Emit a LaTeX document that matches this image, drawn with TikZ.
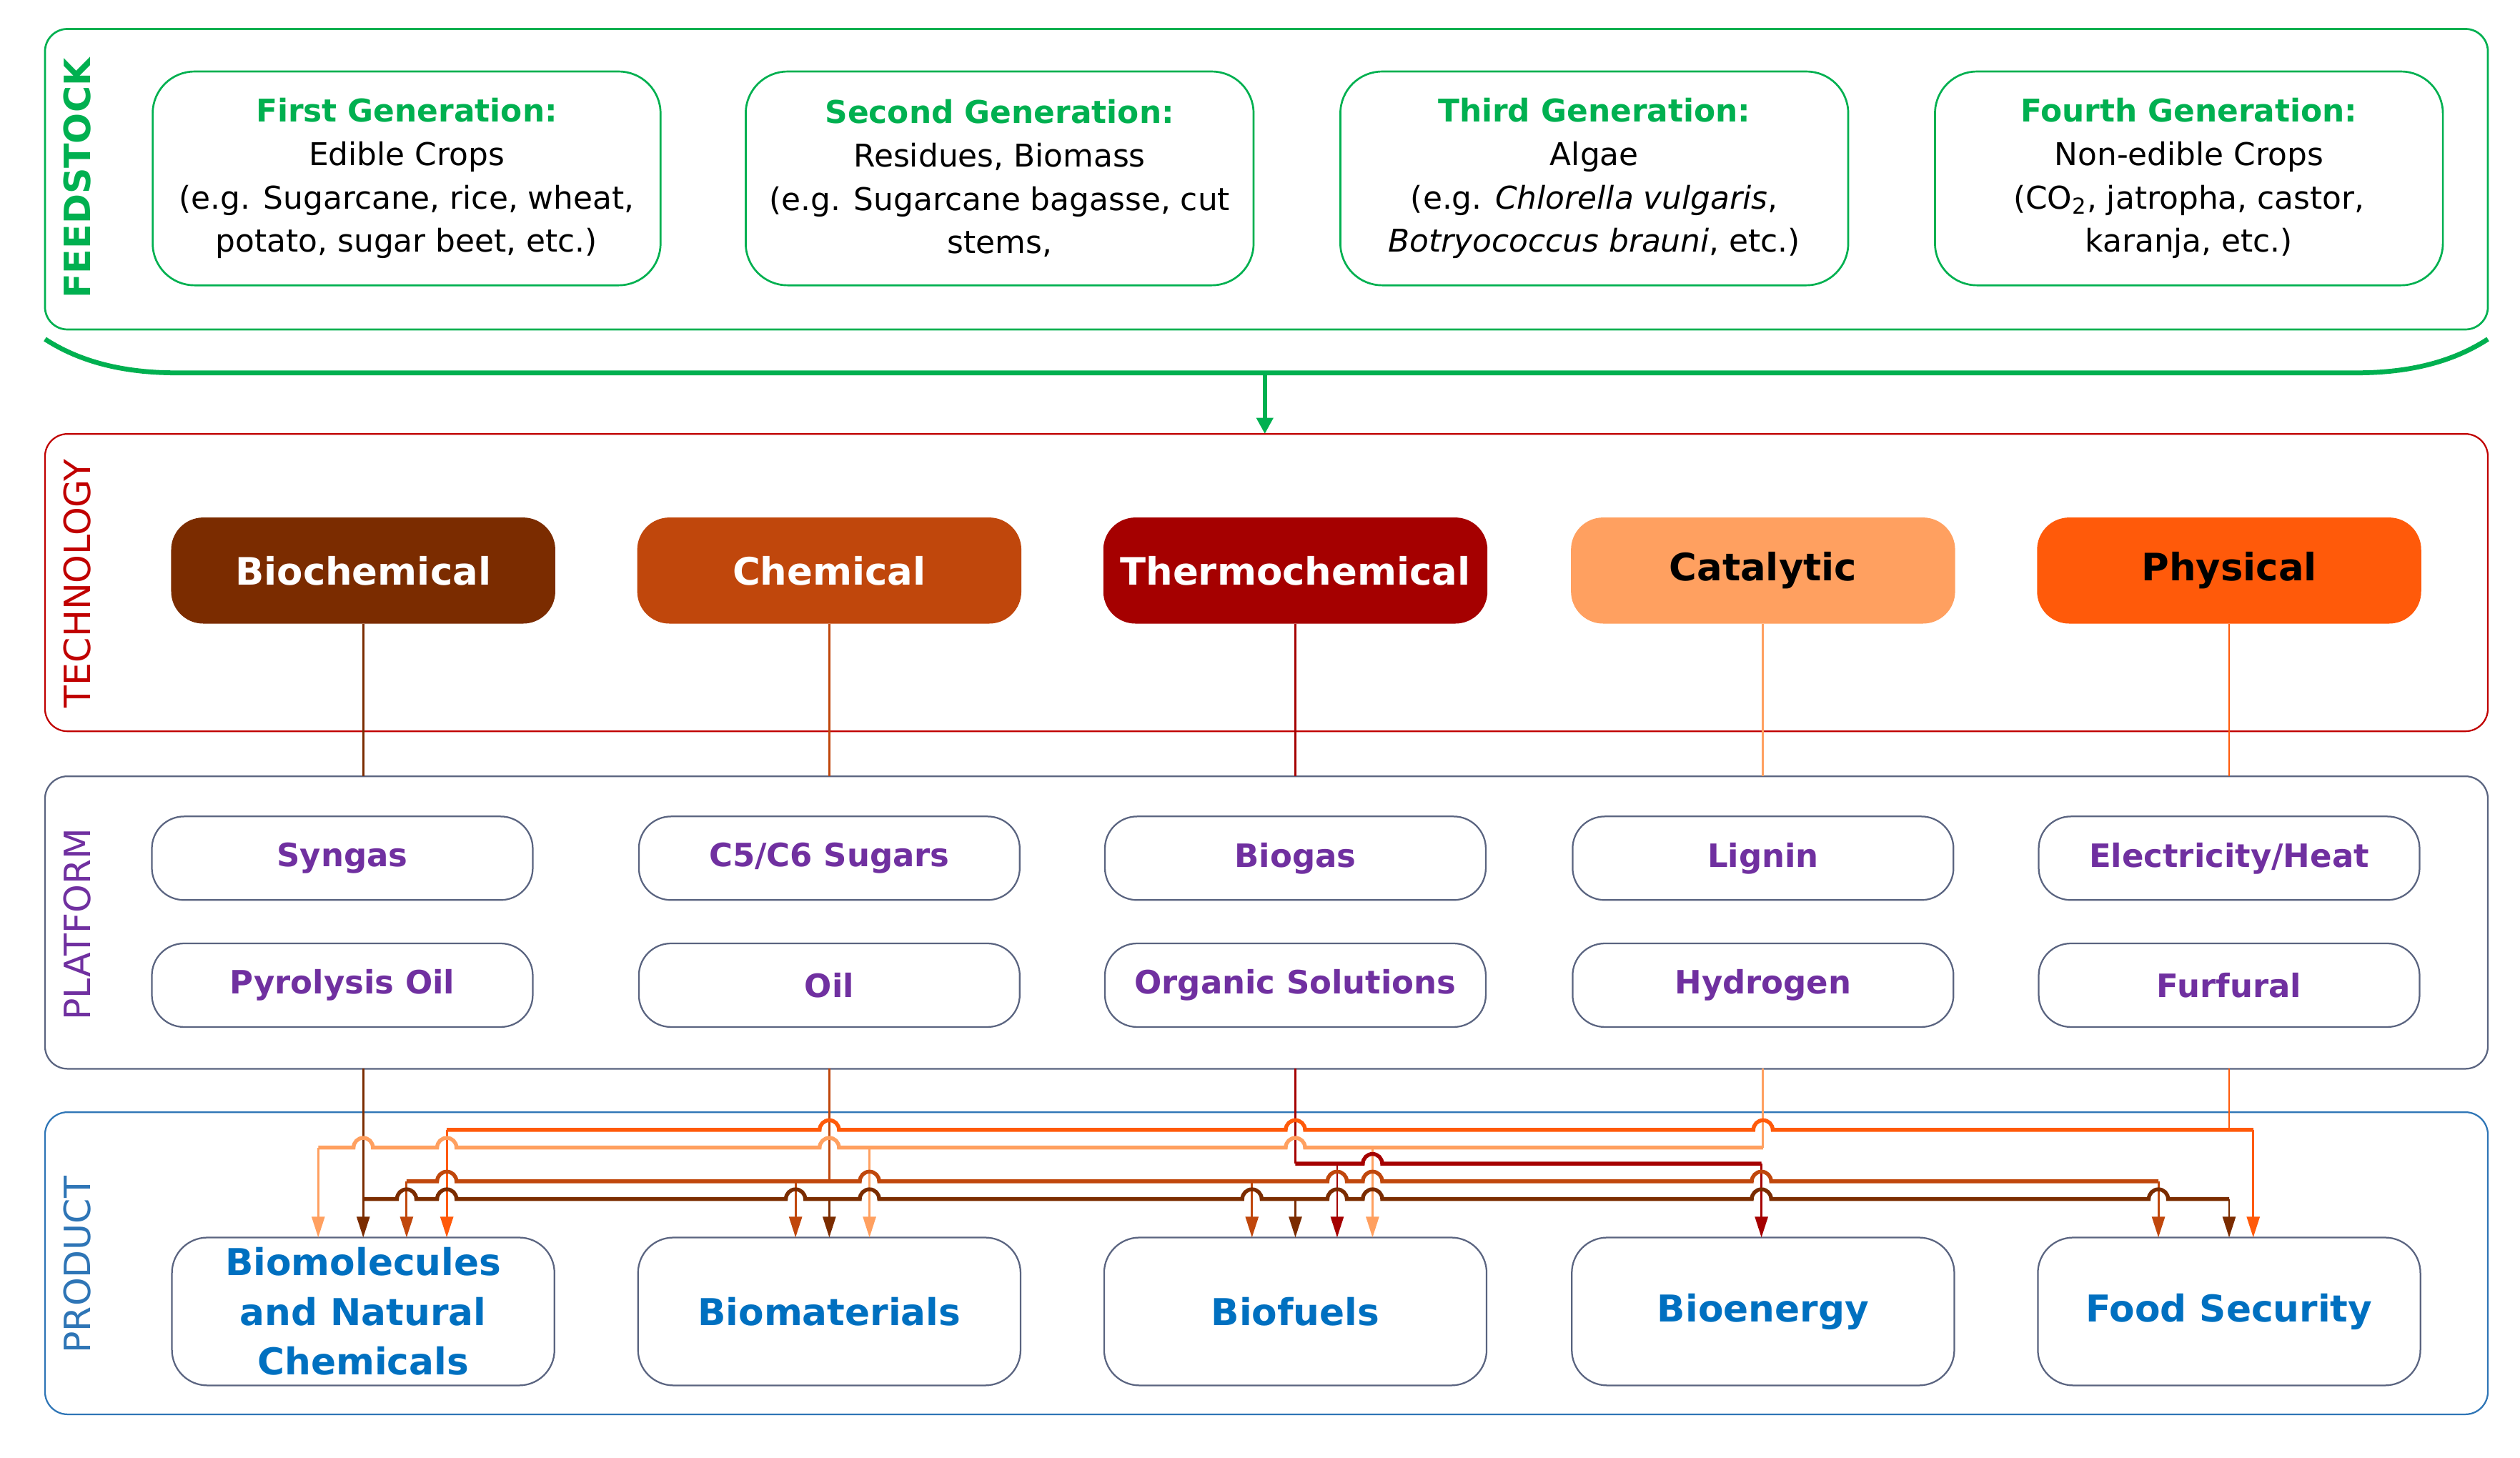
\documentclass[tikz,border=0pt]{standalone}
\usepackage{fontspec}
\setmainfont{DejaVu Sans}
\usetikzlibrary{arrows.meta}
\definecolor{fgreen}{HTML}{00B050}
\definecolor{tred}{HTML}{C00000}
\definecolor{pgray}{HTML}{5A6480}
\definecolor{ppur}{HTML}{7030A0}
\definecolor{pblue}{HTML}{2E75B6}
\definecolor{ptext}{HTML}{0070C0}
\definecolor{cbio}{HTML}{7B2C00}
\definecolor{cchem}{HTML}{C0470C}
\definecolor{cthermo}{HTML}{A50000}
\definecolor{ccat}{HTML}{FFA060}
\definecolor{cphys}{HTML}{FF5A0A}
\begin{document}
\begin{tikzpicture}[x=1pt,y=-1pt,
  panel/.style={draw,rounded corners=14pt,line width=1.2pt},
  side/.style={rotate=90,font=\fontsize{22.5}{22.5}\selectfont},
  feed/.style={draw=fgreen,line width=1.2pt,rounded corners=26pt,minimum width=316pt,minimum height=133pt,align=center,font=\fontsize{19.5}{27}\selectfont},
  tech/.style={rounded corners=20pt,minimum width=239pt,minimum height=66pt,font=\bfseries\fontsize{23.5}{23.5}\selectfont},
  plat/.style={draw=pgray,line width=1pt,rounded corners=20pt,minimum width=237pt,minimum height=52pt,text=ppur,font=\bfseries\fontsize{20}{20}\selectfont},
  prod/.style={draw=pgray,line width=1pt,rounded corners=22pt,minimum width=238pt,minimum height=92pt,text=ptext,align=center,font=\bfseries\fontsize{23}{31}\selectfont},
  vl/.style={line width=1.3pt},
  hl/.style={line width=2.4pt},
  arr/.style={line width=1.3pt,-{Triangle[width=8pt,length=13pt]}}]
\useasboundingbox (0,0) rectangle (1568,907);
% panels
\draw[panel,draw=fgreen] (28,18) rectangle (1548,205);
\draw[fgreen,line width=3pt] (28,211) .. controls (45,222) and (70,232) .. (110,232) -- (1466,232) .. controls (1506,232) and (1531,222) .. (1548,211);
\coordinate (fb) at (787,232);
\coordinate (tt) at (787,270);
\draw[fgreen,line width=2.5pt,-{Triangle[width=10pt,length=10pt]}] (fb) -- (tt);
\draw[panel,draw=tred,line width=1pt] (28,270) rectangle (1548,455);
\draw[panel,draw=pgray,line width=1pt] (28,483) rectangle (1548,665);
\draw[panel,draw=pblue,line width=1pt] (28,692) rectangle (1548,880);
\node[side,text=fgreen,font=\bfseries\fontsize{22.5}{22.5}\selectfont] (lf) at (48,111) {FEEDSTOCK};
\node[side,text=tred] (lt) at (48,363) {TECHNOLOGY};
\node[side,text=ppur] (lp) at (48,575) {PLATFORM};
\node[side,text=pblue] (lq) at (48,787) {PRODUCT};
% feedstock
\node[feed] (f1) at (253,111) {\textcolor{fgreen}{\bfseries First Generation:}\\Edible Crops\\(e.g. Sugarcane, rice, wheat,\\potato, sugar beet, etc.)};
\node[feed] (f2) at (622,111) {\textcolor{fgreen}{\bfseries Second Generation:}\\Residues, Biomass\\(e.g. Sugarcane bagasse, cut\\stems,};
\node[feed] (f3) at (992,111) {\textcolor{fgreen}{\bfseries Third Generation:}\\Algae\\(e.g. \textit{Chlorella vulgaris},\\\textit{Botryococcus brauni}, etc.)};
\node[feed] (f4) at (1362,111) {\textcolor{fgreen}{\bfseries Fourth Generation:}\\Non-edible Crops\\(CO\textsubscript{2}, jatropha, castor,\\karanja, etc.)};
% technology
\node[tech,fill=cbio,text=white] (t1) at (226,355) {Biochemical};
\node[tech,fill=cchem,text=white] (t2) at (516,355) {Chemical};
\node[tech,fill=cthermo,text=white] (t3) at (806,355) {Thermochemical};
\node[tech,fill=ccat,text=black] (t4) at (1097,355) {Catalytic};
\node[tech,fill=cphys,text=black] (t5) at (1387,355) {Physical};
% platform
\node[plat] (p1a) at (213,534) {Syngas};
\node[plat] (p1b) at (213,613) {Pyrolysis Oil};
\node[plat] (p2a) at (516,534) {C5/C6 Sugars};
\node[plat] (p2b) at (516,613) {Oil};
\node[plat] (p3a) at (806,534) {Biogas};
\node[plat] (p3b) at (806,613) {Organic Solutions};
\node[plat] (p4a) at (1097,534) {Lignin};
\node[plat] (p4b) at (1097,613) {Hydrogen};
\node[plat] (p5a) at (1387,534) {Electricity/Heat};
\node[plat] (p5b) at (1387,613) {Furfural};
% products
\node[prod] (q1) at (226,816) {Biomolecules\\and Natural\\Chemicals};
\node[prod] (q2) at (516,816) {Biomaterials};
\node[prod] (q3) at (806,816) {Biofuels};
\node[prod] (q4) at (1097,816) {Bioenergy};
\node[prod] (q5) at (1387,816) {Food Security};
% tech to platform
\draw[vl,cbio] (t1.south) -- (226,483);
\draw[vl,cchem] (t2.south) -- (516,483);
\draw[vl,cthermo] (t3.south) -- (806,483);
\draw[vl,ccat] (t4.south) -- (1097,483);
\draw[vl,cphys] (t5.south) -- (1387,483);
% platform to product verticals
\draw[vl,cchem] (516,665) -- (516,735);
\draw[vl,cthermo] (806,665) -- (806,724);
\draw[vl,ccat] (1097,665) -- (1097,714);
\draw[vl,cphys] (1387,665) -- (1387,703);
\draw[arr,cbio] (226,665) -- (226,770);
% drops
\foreach \x/\y/\c in {278/703/cphys,1402/703/cphys,198/714/ccat,541/714/ccat,854/714/ccat,832/724/cthermo,1096/724/cthermo,253/735/cchem,495/735/cchem,779/735/cchem,1343/735/cchem,516/746/cbio,806/746/cbio,1387/746/cbio}
  \draw[arr,\c] (\x,\y) -- (\x,770);
% horizontals with hops
\def\r{6}
\draw[hl,cphys] (278,703) \foreach \h in {516,806,1097}{ -- (\h-\r,703) arc[start angle=180,end angle=360,radius=\r]} -- (1402,703);
\draw[hl,ccat] (198,714) \foreach \h in {226,278,516,806}{ -- (\h-\r,714) arc[start angle=180,end angle=360,radius=\r]} -- (1097,714);
\draw[hl,cthermo] (806,724) \foreach \h in {854}{ -- (\h-\r,724) arc[start angle=180,end angle=360,radius=\r]} -- (1096,724);
\draw[hl,cchem] (253,735) \foreach \h in {278,541,832,854,1096}{ -- (\h-\r,735) arc[start angle=180,end angle=360,radius=\r]} -- (1343,735);
\draw[hl,cbio] (226,746) \foreach \h in {253,278,495,541,779,832,854,1096,1343}{ -- (\h-\r,746) arc[start angle=180,end angle=360,radius=\r]} -- (1387,746);
\end{tikzpicture}
\end{document}
